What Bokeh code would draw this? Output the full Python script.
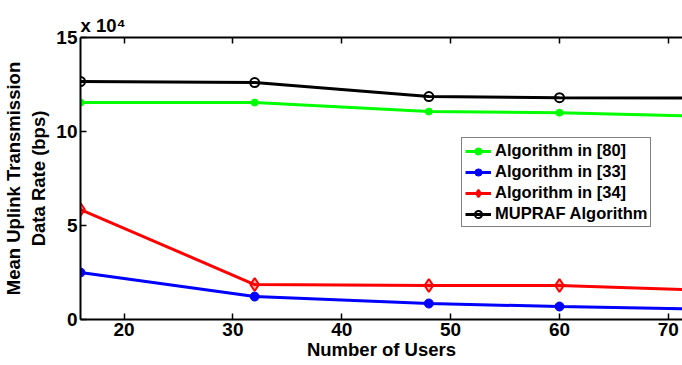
from bokeh.plotting import figure
from bokeh.models import Range1d, LinearAxis, FixedTicker, CustomJSTickFormatter, Title, Legend, LegendItem
from bokeh.embed import file_html
from bokeh.resources import INLINE

users = [16, 32, 48, 60, 72]
alg80 = [115400, 115400, 110600, 110000, 108300]
alg33 = [25000, 12200, 8500, 6900, 5700]
alg34 = [58500, 18600, 18100, 18100, 15800]
mupraf = [126600, 126000, 118600, 118000, 117800]
labels = ["Algorithm in [80]", "Algorithm in [33]", "Algorithm in [34]", "MUPRAF Algorithm"]

FONT = "Liberation Sans"

p = figure(width=682, height=365, output_backend="svg", toolbar_location=None,
           x_range=Range1d(16, 71.3), y_range=Range1d(0, 150000),
           min_border_left=80, min_border_right=0, min_border_top=0, min_border_bottom=46)
p.outline_line_color = None
p.xgrid.visible = False
p.ygrid.visible = False
p.background_fill_color = "white"

r1l = p.line(users, alg80, line_color="#00ff00", line_width=3)
r1m = p.scatter(users, alg80, marker="circle", size=7, fill_color="#00ff00", line_color="#00ff00")
r2l = p.line(users, alg33, line_color="#0000ff", line_width=3)
r2m = p.scatter(users, alg33, marker="circle", size=9, fill_color="#0000ff", line_color="#0000ff")
r3l = p.line(users, alg34, line_color="#ff0000", line_width=3)
r3m = p.scatter(users, alg34, marker="diamond", size=13, fill_color="#ff0000", fill_alpha=0.3,
                line_color="#ff0000", line_width=2)
r4l = p.line(users, mupraf, line_color="black", line_width=3)
r4m = p.scatter(users, mupraf, marker="circle", size=9, fill_color=None, line_color="black", line_width=2)

for ax in (p.xaxis[0], p.yaxis[0]):
    ax.major_tick_in = 6
    ax.major_tick_out = 0
    ax.minor_tick_in = 0
    ax.minor_tick_out = 0
    ax.axis_line_width = 2
    ax.major_tick_line_width = 1.5
    ax.major_label_text_font = FONT
    ax.major_label_text_font_style = "bold"
    ax.major_label_text_font_size = "19px"
    ax.major_label_text_color = "black"
    ax.axis_label_text_font = FONT
    ax.axis_label_text_font_style = "bold"
    ax.axis_label_text_font_size = "18.5px"
    ax.axis_label_text_color = "black"

p.xaxis[0].ticker = FixedTicker(ticks=[20, 30, 40, 50, 60, 70])
p.xaxis[0].axis_label = "Number of Users"
p.xaxis[0].axis_label_standoff = 0
p.xaxis[0].major_label_standoff = 3
p.yaxis[0].ticker = FixedTicker(ticks=[0, 50000, 100000, 150000])
p.yaxis[0].formatter = CustomJSTickFormatter(code="return (tick/1e4).toFixed(0);")
p.yaxis[0].axis_label = "Mean Uplink Transmission\nData Rate (bps)"
p.yaxis[0].axis_label_standoff = 4
p.yaxis[0].major_label_standoff = 3

top = LinearAxis(ticker=FixedTicker(ticks=[20, 30, 40, 50, 60, 70]))
top.major_tick_in = 6
top.major_tick_out = 0
top.minor_tick_in = 0
top.minor_tick_out = 0
top.axis_line_width = 2
top.major_tick_line_width = 1.5
top.major_label_text_font_size = "0px"
top.major_label_text_color = None
top.major_label_standoff = 0
p.add_layout(top, "above")

# exponent of the y axis, shown above the frame
exp_title = Title(text="x 10\u2074", align="left", offset=0, standoff=3,
                  text_font=FONT, text_font_style="bold", text_font_size="18.5px",
                  text_color="black")
p.add_layout(exp_title, "above")
# empty spacer above it, to push the frame down
spacer = Title(text=" ", align="left", standoff=0, text_font=FONT, text_font_size="8px")
p.add_layout(spacer, "above")

legend = Legend(items=[LegendItem(label=labels[0], renderers=[r1l, r1m]),
                       LegendItem(label=labels[1], renderers=[r2l, r2m]),
                       LegendItem(label=labels[2], renderers=[r3l, r3m]),
                       LegendItem(label=labels[3], renderers=[r4l, r4m])],
                location=(381, 92))
legend.label_text_font = FONT
legend.label_text_font_style = "bold"
legend.label_text_font_size = "16.5px"
legend.label_text_color = "black"
legend.glyph_width = 26
legend.glyph_height = 18
legend.label_height = 18
legend.spacing = 2
legend.padding = 3
legend.margin = 0
legend.label_standoff = 4
legend.border_line_color = "black"
legend.border_line_width = 1.5
legend.background_fill_alpha = 1
p.add_layout(legend, "center")

open("out.html", "w").write(file_html(p, INLINE))
